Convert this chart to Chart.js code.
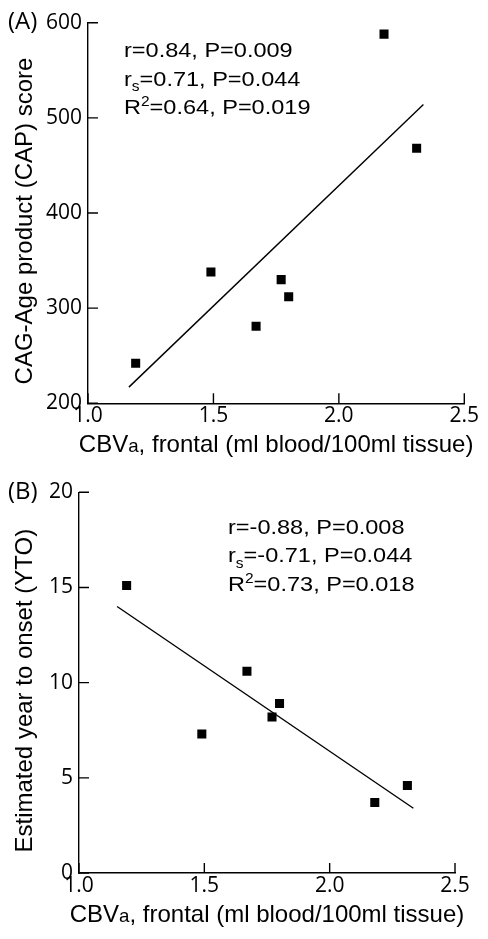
<!DOCTYPE html>
<html>
<head>
<meta charset="utf-8">
<script src="https://cdn.jsdelivr.net/npm/chart.js@4.4.1/dist/chart.umd.min.js"></script>
<style>
  html, body { margin: 0; padding: 0; background: #fff; }
  canvas { display: block; }
</style>
</head>
<body>
<canvas id="chartA" width="488" height="470"></canvas>
<canvas id="chartB" width="488" height="469"></canvas>
<script>
// frontal CBVa per subject, same subjects in both panels
const cbvFrontal = [1.19, 1.49, 1.67, 1.77, 1.80, 2.18, 2.31];
const capScore = [242, 338, 281, 330, 312, 588, 468];
const ytoYears = [15.1, 7.3, 10.6, 8.2, 8.9, 3.7, 4.6];

// regression lines, read at both ends
const fitAx = [1.163, 2.337];
const fitAy = [217, 514];
const fitBx = [1.152, 2.334];
const fitBy = [14.0, 3.4];

const xTicks = [1.0, 1.5, 2.0, 2.5];
const yTicksA = [200, 300, 400, 500, 600];
const yTicksB = [0, 5, 10, 15, 20];

// [text, kind] pieces, kind: sub / sup / small
const statsA = [
    [['r=0.84, P=0.009']],
    [['r'], ['s', 'sub'], ['=0.71, P=0.044']],
    [['R'], ['2', 'sup'], ['=0.64, P=0.019']]
];
const statsB = [
    [['r=-0.88, P=0.008']],
    [['r'], ['s', 'sub'], ['=-0.71, P=0.044']],
    [['R'], ['2', 'sup'], ['=0.73, P=0.018']]
];
const xTitle = [['CBV'], ['a', 'small'], [', frontal (ml blood/100ml tissue)']];
const yTitleA = 'CAG-Age product (CAP) score';
const yTitleB = 'Estimated year to onset (YTO)';

const black = '#000';
const textFamily = "'Liberation Sans', Arial, sans-serif";
const tickFont = { family: "'Open Sans', sans-serif", size: 21 };

function drawRich(ctx, pieces, x, y, size, sx, align) {
    ctx.save();
    ctx.translate(x, y);
    ctx.scale(sx, 1);
    const parts = pieces.map(([t, kind]) => {
        const s = kind === 'small' ? size * 0.78 : kind ? size * 0.66 : size;
        ctx.font = s + 'px ' + textFamily;
        let dy = 0;
        if (kind === 'sub') dy = size * 0.25;
        if (kind === 'sup') dy = -size * 0.36;
        return { t, s, dy, w: ctx.measureText(t).width };
    });
    const total = parts.reduce((sum, p) => sum + p.w, 0);
    let cx = align === 'center' ? -total / 2 : 0;
    ctx.textAlign = 'left';
    ctx.textBaseline = 'alphabetic';
    ctx.fillStyle = black;
    parts.forEach(p => {
        ctx.font = p.s + 'px ' + textFamily;
        ctx.fillText(p.t, cx, p.dy);
        cx += p.w;
    });
    ctx.restore();
}

// inward ticks, panel letter, stats and axis titles
const panelText = {
    id: 'panelText',
    afterDraw(chart, args, opts) {
        const { ctx, chartArea: a, scales: { x, y } } = chart;

        ctx.save();
        ctx.strokeStyle = black;
        ctx.lineWidth = 1.4;
        ctx.beginPath();
        x.ticks.forEach(t => {
            const px = x.getPixelForValue(t.value);
            ctx.moveTo(px, a.bottom);
            ctx.lineTo(px, a.bottom - 10);
        });
        y.ticks.forEach(t => {
            const py = y.getPixelForValue(t.value);
            ctx.moveTo(a.left, py);
            ctx.lineTo(a.left + 10, py);
        });
        ctx.stroke();

        ctx.font = "24px 'Open Sans', sans-serif";
        ctx.fillStyle = black;
        ctx.textAlign = 'left';
        ctx.textBaseline = 'alphabetic';
        ctx.fillText(opts.panel, 8, 29);
        ctx.restore();

        opts.stats.forEach((line, i) => {
            drawRich(ctx, line, opts.statsX, opts.statsY + i * 28.3, 21, 1.12, 'left');
        });

        drawRich(ctx, xTitle, (a.left + a.right) / 2, a.bottom + 49, 24, 1, 'center');

        ctx.save();
        ctx.translate(32, (a.top + a.bottom) / 2 + 8);
        ctx.rotate(-Math.PI / 2);
        drawRich(ctx, [[opts.yTitle]], 0, 0, 24, 1, 'center');
        ctx.restore();
    }
};

function makeChart(id, ys, fitX, fitY, yMin, yMax, yTicks, area, text) {
    const canvas = document.getElementById(id);
    const H = canvas.height;
    return new Chart(canvas, {
        type: 'scatter',
        data: {
            datasets: [
                {
                    data: cbvFrontal.map((v, i) => ({ x: v, y: ys[i] })),
                    pointStyle: 'rect',
                    pointRadius: 6.4,
                    pointHoverRadius: 6.4,
                    backgroundColor: black,
                    borderWidth: 0
                },
                {
                    data: fitX.map((v, i) => ({ x: v, y: fitY[i] })),
                    showLine: true,
                    borderColor: black,
                    borderWidth: 1.4,
                    pointRadius: 0,
                    pointHoverRadius: 0
                }
            ]
        },
        options: {
            responsive: false,
            animation: false,
            devicePixelRatio: 1,
            events: [],
            layout: {
                padding: { top: area.top, right: 488 - area.right, left: 0, bottom: 0 }
            },
            plugins: {
                legend: { display: false },
                tooltip: { enabled: false },
                panelText: text
            },
            scales: {
                x: {
                    type: 'linear',
                    min: 1.0,
                    max: 2.5,
                    afterBuildTicks: s => { s.ticks = xTicks.map(v => ({ value: v })) },
                    afterFit: s => { s.height = H - area.bottom },
                    grid: { display: false, drawTicks: false },
                    border: { display: true, color: black, width: 1.4 },
                    ticks: {
                        font: tickFont,
                        color: black,
                        padding: 0,
                        maxRotation: 0,
                        autoSkip: false,
                        callback: v => Number(v).toFixed(1)
                    }
                },
                y: {
                    type: 'linear',
                    min: yMin,
                    max: yMax,
                    afterBuildTicks: s => { s.ticks = yTicks.map(v => ({ value: v })) },
                    afterFit: s => { s.width = area.left },
                    grid: { display: false, drawTicks: false },
                    border: { display: true, color: black, width: 1.4 },
                    ticks: {
                        font: tickFont,
                        color: black,
                        padding: 6,
                        autoSkip: false,
                        callback: v => String(v)
                    }
                }
            }
        },
        plugins: [panelText]
    });
}

makeChart('chartA', capScore, fitAx, fitAy, 200, 600, yTicksA,
    { left: 88, right: 464.3, top: 22.7, bottom: 403.3 },
    { panel: '(A)', stats: statsA, statsX: 124, statsY: 57.3, yTitle: yTitleA });

makeChart('chartB', ytoYears, fitBx, fitBy, 0, 20, yTicksB,
    { left: 79, right: 455, top: 22.3, bottom: 403 },
    { panel: '(B)', stats: statsB, statsX: 228, statsY: 64, yTitle: yTitleB });
</script>
</body>
</html>
